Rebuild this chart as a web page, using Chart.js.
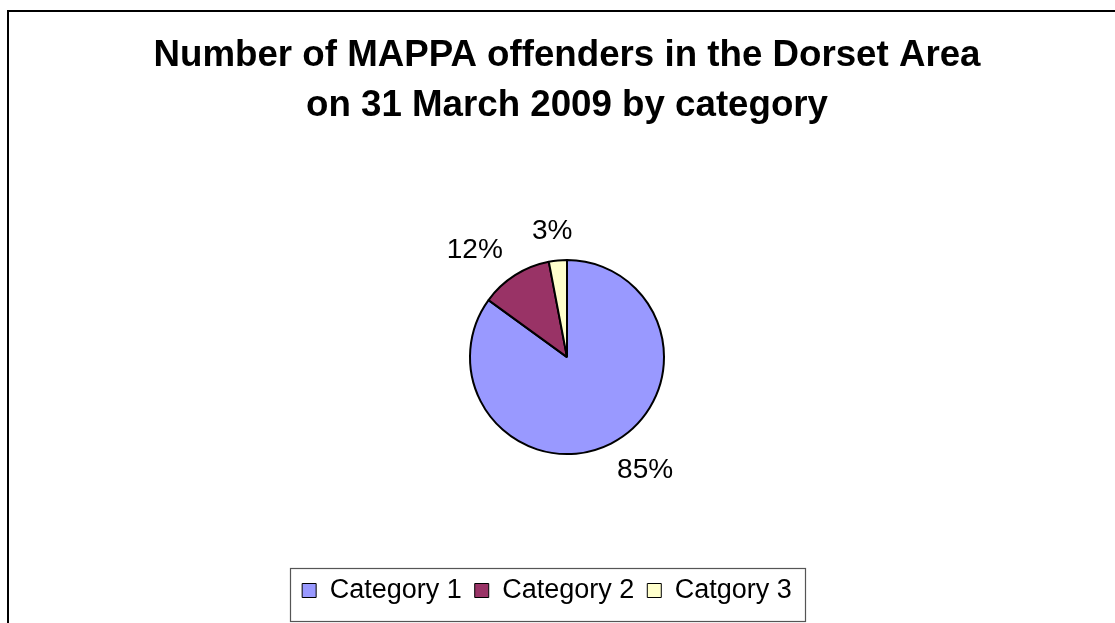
<!DOCTYPE html>
<html>
<head>
<meta charset="utf-8">
<script src="https://cdn.jsdelivr.net/npm/chart.js@4/dist/chart.umd.min.js"></script>
<style>
  html, body { margin: 0; padding: 0; background: #fff; overflow: hidden; width: 1115px; height: 623px; }
  #frame { position: absolute; left: 7px; top: 10px; width: 1200px; height: 700px; border: 2px solid #000; }
  #wrap { position: absolute; left: 0; top: 0; width: 1134px; height: 623px; }
</style>
</head>
<body>
<div id="frame"></div>
<div id="wrap"><canvas id="mappa-chart"></canvas></div>
<script>
const titleLines = ["Number of MAPPA offenders in the Dorset Area", "on 31 March 2009 by category"];
const categories = ["Category 1", "Category 2", "Catgory 3"];
const shares = [85, 12, 3];
const sliceColors = ["#9999FF", "#993366", "#FFFFCC"];

const FONT = "'Liberation Sans', Arial, sans-serif";
const LEGEND_SHIFT = -20;

// percentage labels outside each slice, Excel style
const outsideLabels = {
  id: "outsideLabels",
  afterDatasetsDraw(chart) {
    const ctx = chart.ctx;
    const meta = chart.getDatasetMeta(0);
    const total = shares.reduce((a, b) => a + b, 0);
    ctx.save();
    ctx.font = "28px " + FONT;
    ctx.fillStyle = "#000";
    ctx.textAlign = "center";
    ctx.textBaseline = "middle";
    meta.data.forEach((arc, i) => {
      const p = arc.getProps(["x", "y", "startAngle", "endAngle", "outerRadius"], true);
      const mid = (p.startAngle + p.endAngle) / 2;
      const dx = Math.cos(mid), dy = Math.sin(mid);
      const txt = Math.round(shares[i] / total * 100) + "%";
      const w = ctx.measureText(txt).width;
      const h = 21;
      const d = p.outerRadius + 19;
      ctx.fillText(txt, p.x + dx * d + dx * w, p.y + dy * d + dy * h / 2);
    });
    ctx.restore();
  }
};

// shift the legend left and draw its frame
const legendFrame = {
  id: "legendFrame",
  afterUpdate(chart) {
    const lg = chart.legend;
    lg.left += LEGEND_SHIFT;
    lg.right += LEGEND_SHIFT;
    (lg.legendHitBoxes || []).forEach(h => { h.left += LEGEND_SHIFT; });
  },
  afterDraw(chart) {
    const lg = chart.legend;
    const hb = lg.legendHitBoxes;
    if (!hb || !hb.length) return;
    const first = hb[0], last = hb[hb.length - 1];
    const yc = first.top + first.height / 2;
    const ctx = chart.ctx;
    const x0 = Math.round(first.left - 12);
    const x1 = Math.round(last.left + last.width + 13);
    ctx.save();
    ctx.strokeStyle = "#555";
    ctx.lineWidth = 1.2;
    ctx.strokeRect(x0 + 0.5, Math.round(yc - 23) + 0.5, x1 - x0, 53);
    ctx.restore();
  }
};

new Chart(document.getElementById("mappa-chart"), {
  type: "pie",
  data: {
    labels: categories,
    datasets: [{
      data: shares,
      backgroundColor: sliceColors,
      borderColor: "#000",
      borderWidth: 2,
      radius: 97
    }]
  },
  options: {
    responsive: true,
    maintainAspectRatio: false,
    animation: false,
    layout: { padding: { top: 0, bottom: 9, left: 0, right: 0 } },
    plugins: {
      title: {
        display: true,
        text: titleLines,
        color: "#000",
        font: { family: FONT, size: 36.7, weight: "bold", lineHeight: 1.365 },
        padding: { top: 31, bottom: 19 }
      },
      legend: {
        display: true,
        position: "bottom",
        labels: {
          color: "#000",
          font: { family: FONT, size: 27 },
          boxWidth: 14,
          boxHeight: 14,
          padding: 13,
          generateLabels(chart) {
            const items = Chart.overrides.pie.plugins.legend.labels.generateLabels(chart);
            items.forEach(it => { it.lineWidth = 1; it.strokeStyle = "#000"; });
            return items;
          }
        }
      },
      tooltip: { enabled: false }
    }
  },
  plugins: [outsideLabels, legendFrame]
});
</script>
</body>
</html>
